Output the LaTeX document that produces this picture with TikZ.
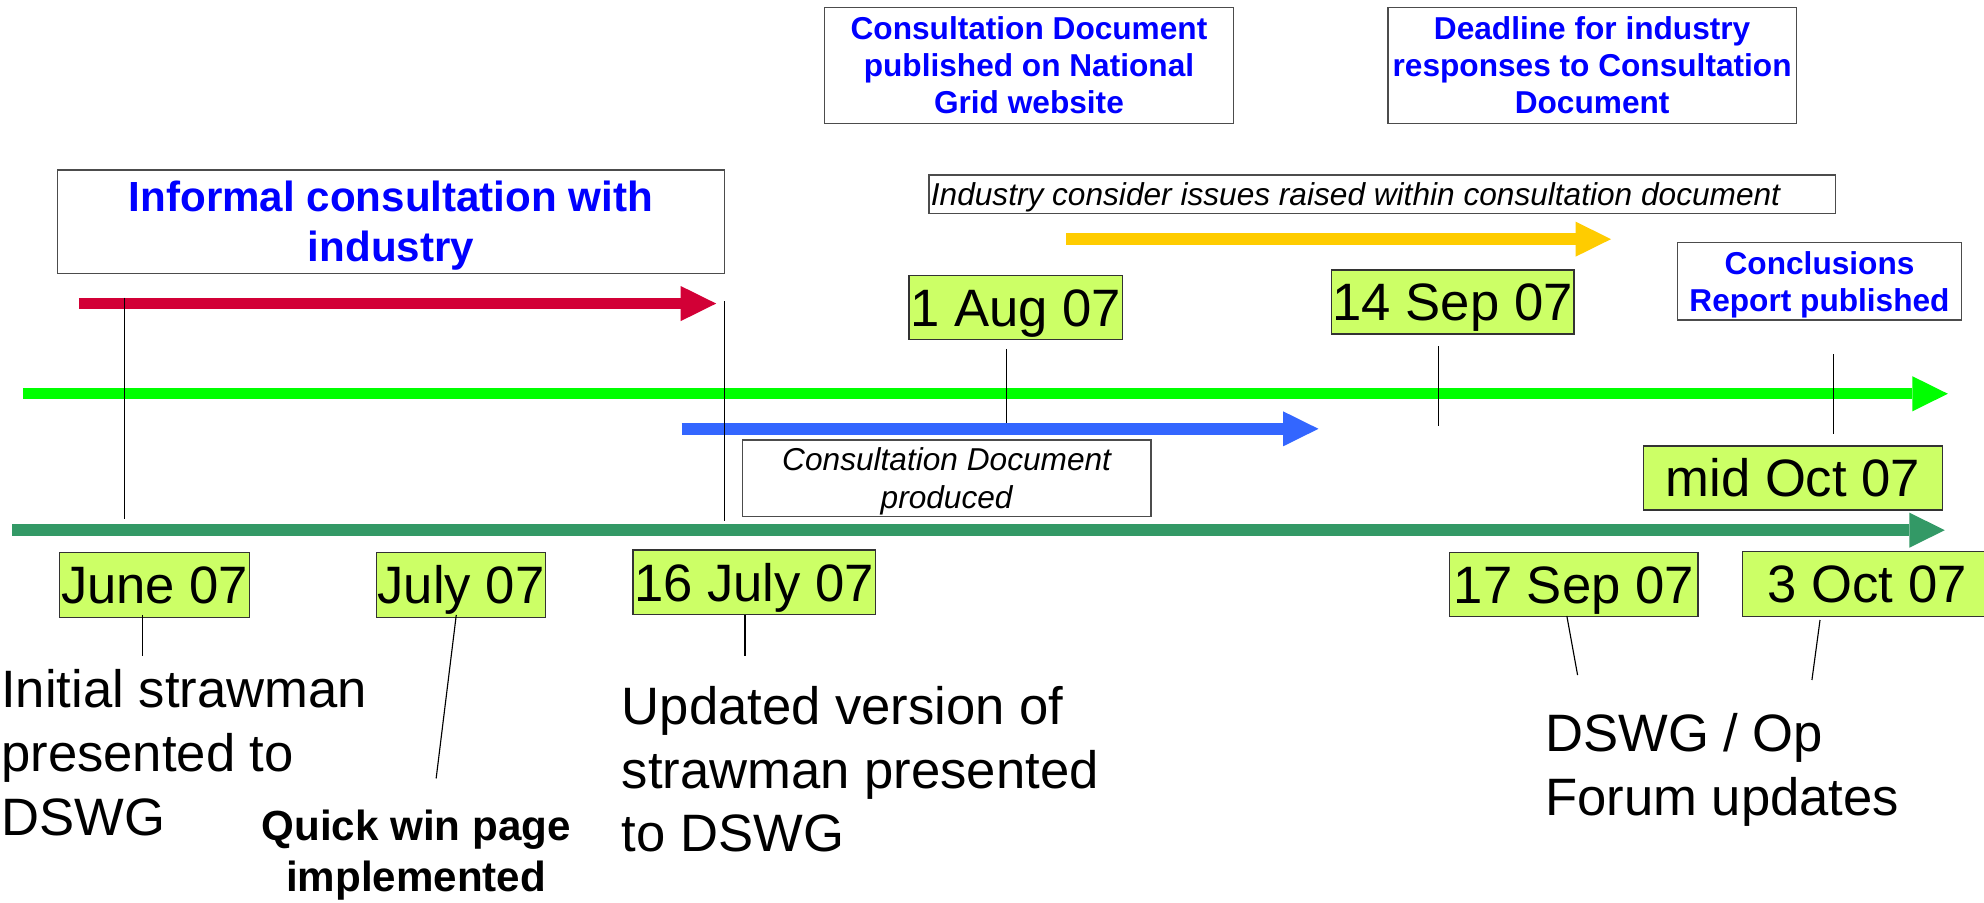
\documentclass[tikz,border=0pt]{standalone}
\usepackage{fontspec}
\setmainfont{Liberation Sans}
\usetikzlibrary{arrows.meta}
\definecolor{redA}{HTML}{D20036}
\definecolor{greenL}{HTML}{00FF00}
\definecolor{blueA}{HTML}{3366FF}
\definecolor{greenD}{HTML}{339966}
\definecolor{yellowA}{HTML}{FFCC00}
\definecolor{dateFill}{HTML}{CCFF66}
\definecolor{blueT}{HTML}{0000FF}
\tikzset{
  bar/.style={line width=9pt,-{Triangle[length=28pt,width=27.7pt,line width=0pt]}},
  datebox/.style={draw=black!80,line width=1pt,fill=dateFill,inner sep=0pt,
    text height=29.8pt,text depth=0pt,font=\fontsize{41.6}{50}\selectfont},
  infobox/.style={draw=black!70,line width=1pt,fill=white,inner sep=0pt,align=center,
    text=blueT,font=\bfseries\fontsize{25}{29.3}\selectfont,text depth=0pt},
  italbox/.style={draw=black!70,line width=1pt,fill=white,inner sep=0pt,align=center,
    font=\itshape\fontsize{25}{29.8}\selectfont,text depth=0pt},
  bigtext/.style={inner sep=0pt,align=left,anchor=north west,text depth=0pt},
  tick/.style={line width=0.9pt,draw=black}
}
\begin{document}
\begin{tikzpicture}[x=1pt,y=-1pt]
\useasboundingbox (0,0) rectangle (1568,713);
\clip (0,0) rectangle (1568,713);
\fill[white] (0,0) rectangle (1568,713);

% top information boxes
\node[infobox,minimum width=323.6pt,minimum height=91.7pt,text height=76.5pt] (cdpub) at (813.2,51.65)
  {Consultation Document\\published on National\\Grid website};
\node[infobox,minimum width=322.6pt,minimum height=91.7pt,text height=76.5pt] (deadline) at (1258.3,51.65)
  {Deadline for industry\\responses to Consultation\\Document};
\node[infobox,minimum width=527.3pt,minimum height=81.6pt,text height=63.3pt,
  font=\bfseries\fontsize{33.3}{39.5}\selectfont] (informal) at (309,175.2)
  {Informal consultation with\\industry};
\node[italbox,minimum width=716.6pt,minimum height=30.3pt,text height=17.9pt] (industry) at (1092.5,153.45)
  {\makebox[716.6pt][l]{\hspace{1.5pt}Industry consider issues raised within consultation document}};
\node[infobox,minimum width=224.8pt,minimum height=61.1pt,text height=47.2pt] (concl) at (1438,222.35)
  {Conclusions\\Report published};
\node[italbox,minimum width=322.9pt,minimum height=60.6pt,text height=47.7pt] (cdprod) at (748.15,378.1)
  {Consultation Document\\produced};

% thick timeline arrows
\coordinate (redS) at (62.4,239.9);   \coordinate (redE) at (566,239.9);
\coordinate (ylwS) at (842.5,189);    \coordinate (ylwE) at (1273.2,189);
\coordinate (glS) at (18.1,311.2);    \coordinate (glE) at (1539.4,311.2);
\coordinate (blS) at (538.6,338.9);   \coordinate (blE) at (1042,338.9);
\coordinate (gdS) at (9.5,419);       \coordinate (gdE) at (1537,419);
\draw[bar,redA] (redS) -- (redE);
\draw[bar,yellowA] (ylwS) -- (ylwE);
\draw[bar,greenL] (glS) -- (glE);
\draw[bar,blueA] (blS) -- (blE);
\draw[bar,greenD] (gdS) -- (gdE);

% date boxes
\node[datebox,minimum width=168.6pt,minimum height=50.3pt] (d1aug) at (802.7,243.05) {1 Aug 07};
\node[datebox,minimum width=191.7pt,minimum height=50.6pt] (d14sep) at (1148.05,238.7) {14 Sep 07};
\node[datebox,minimum width=235.9pt,minimum height=50.6pt] (dmidoct) at (1416.95,377.8) {mid Oct 07};
\node[datebox,minimum width=150.1pt,minimum height=51.1pt] (djune) at (122.25,462.35) {June 07};
\node[datebox,minimum width=133.4pt,minimum height=51.1pt] (djuly) at (364.3,462.35) {July 07};
\node[datebox,minimum width=191.4pt,minimum height=50.8pt] (d16july) at (596,460.1) {16 July 07};
\node[datebox,minimum width=196.3pt,minimum height=50.6pt] (d17sep) at (1243.85,462.1) {17 Sep 07};
\node[datebox,minimum width=240pt,minimum height=51pt] (d3oct) at (1497.3,461.5)
  {\makebox[240pt][l]{\hspace{19.7pt}3 Oct 07}};

% free texts
\node[bigtext,text height=130.8pt,font=\fontsize{41.6}{50.5}\selectfont] (initial) at (0.8,529.2)
  {Initial strawman\\presented to\\DSWG};
\node[inner sep=0pt,align=center,anchor=north,text height=64.6pt,text depth=0pt,
  font=\bfseries\fontsize{33.3}{40.8}\selectfont] (quick) at (328.9,640.1)
  {Quick win page\\implemented};
\node[bigtext,text height=130.7pt,font=\fontsize{41.6}{50.45}\selectfont] (updated) at (491.2,542.4)
  {Updated version of\\strawman presented\\to DSWG};
\node[bigtext,text height=79.9pt,font=\fontsize{41.6}{50.1}\selectfont] (dswg) at (1221,564.2)
  {DSWG / Op\\Forum updates};

% thin marker lines
\coordinate (v1a) at (98.3,235.3);    \coordinate (v1b) at (98.3,410.4);
\coordinate (v2a) at (572.7,238);     \coordinate (v2b) at (572.7,412);
\coordinate (a1a) at (795.2,275.8);   \coordinate (a1b) at (795.2,334);
\coordinate (s14a) at (1137,273.5);   \coordinate (s14b) at (1137,336.7);
\coordinate (cna) at (1448.7,279.8);  \coordinate (cnb) at (1448.7,343.3);
\coordinate (jna) at (112.5,486);     \coordinate (jnb) at (112.5,518.2);
\coordinate (jla) at (360.6,486);     \coordinate (jlb) at (344.7,615.2);
\coordinate (j16a) at (588.8,486);    \coordinate (j16b) at (588.8,518.2);
\coordinate (s17a) at (1238.3,486.8); \coordinate (s17b) at (1246.8,533.5);
\coordinate (o3a) at (1438.4,490);    \coordinate (o3b) at (1432,537.4);
\draw[tick] (v1a) -- (v1b);
\draw[tick] (v2a) -- (v2b);
\draw[tick] (a1a) -- (a1b);
\draw[tick] (s14a) -- (s14b);
\draw[tick] (cna) -- (cnb);
\draw[tick] (jna) -- (jnb);
\draw[tick] (jla) -- (jlb);
\draw[tick] (j16a) -- (j16b);
\draw[tick] (s17a) -- (s17b);
\draw[tick] (o3a) -- (o3b);
\end{tikzpicture}
\end{document}
